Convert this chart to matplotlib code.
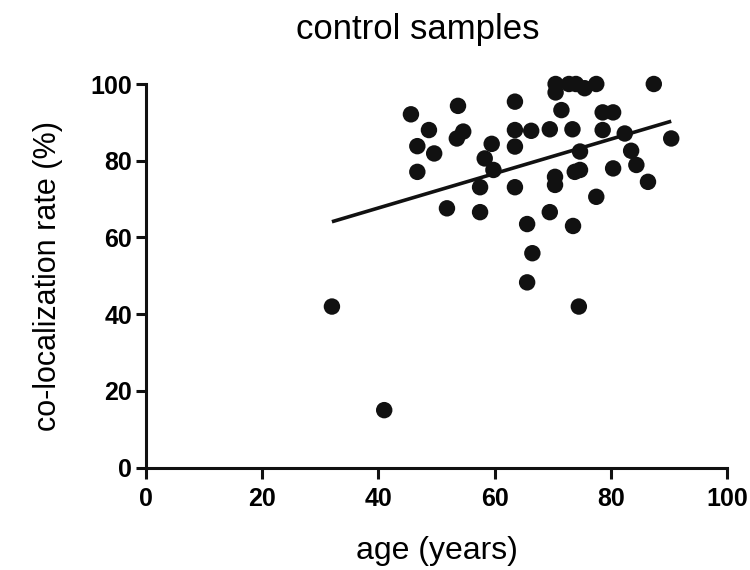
import numpy as np
import matplotlib
matplotlib.use("Agg")
import matplotlib.pyplot as plt

plt.rcParams['font.family'] = ['Liberation Sans', 'DejaVu Sans']

age = [32, 41, 45.6, 48.7, 46.7, 49.6, 46.7, 51.8, 53.7, 54.6, 53.5,
       63.5, 63.5, 63.5, 66.3, 69.5, 73.4, 70.5, 70.5, 72.8, 74.0, 75.5,
       77.5, 71.5, 59.5, 58.3, 59.8, 57.5, 63.5, 57.5, 69.5, 70.4, 70.4,
       73.8, 74.7, 74.7, 87.4, 78.6, 80.4, 78.6, 82.4, 90.4, 83.5, 84.4,
       80.4, 86.4, 77.5, 65.6, 73.5, 66.5, 65.6, 74.5]
rate = [42, 15, 92.1, 88.0, 83.8, 81.9, 77.1, 67.6, 94.3, 87.6, 85.8,
        95.4, 88.0, 83.7, 87.8, 88.2, 88.2, 100, 97.8, 100, 100, 98.9,
        100, 93.2, 84.4, 80.6, 77.6, 73.1, 73.1, 66.6, 66.6, 75.8, 73.7,
        77.1, 77.6, 82.4, 100, 92.6, 92.6, 88.0, 87.1, 85.8, 82.6, 78.9,
        78.0, 74.5, 70.6, 63.5, 63.0, 55.9, 48.3, 42.0]

xticks = [0, 20, 40, 60, 80, 100]
yticks = [0, 20, 40, 60, 80, 100]

fig = plt.figure(figsize=(7.5, 5.7), dpi=100)
ax = fig.add_axes([146/750, 1-467.7/570, (727-146)/750, (467.7-84)/570])

x = np.array(age)
y = np.array(rate)
ax.scatter(x, y, s=140, color='#111111', edgecolors='none', clip_on=False, zorder=3)

slope, intercept = np.polyfit(x, y, 1)
xl = np.array([x.min(), x.max()])
ax.plot(xl, slope*xl + intercept, color='#111111', lw=2.6, solid_capstyle='butt', zorder=4, clip_on=False)

ax.set_xlim(0, 100)
ax.set_ylim(0, 100)
ax.set_xticks(xticks)
ax.set_yticks(yticks)
ax.set_xticklabels([str(t) for t in xticks], fontsize=18, fontweight='bold')
ax.set_yticklabels([str(t) for t in yticks], fontsize=18, fontweight='bold')
for s in ['top', 'right']:
    ax.spines[s].set_visible(False)
for s in ['left', 'bottom']:
    ax.spines[s].set_linewidth(2.2)
    ax.spines[s].set_color('#111111')
ax.tick_params(axis='x', width=2.2, length=8, color='#111111', pad=6)
ax.tick_params(axis='y', width=2.2, length=7, color='#111111', pad=3)

ax.set_xlabel('age (years)', fontsize=23, labelpad=18)
ax.set_ylabel('co-localization rate (%)', fontsize=22, labelpad=20)
fig.text(418/750, 1-30/570, 'control samples', fontsize=25, ha='center', va='center')

fig.savefig('out.png', dpi=100)
